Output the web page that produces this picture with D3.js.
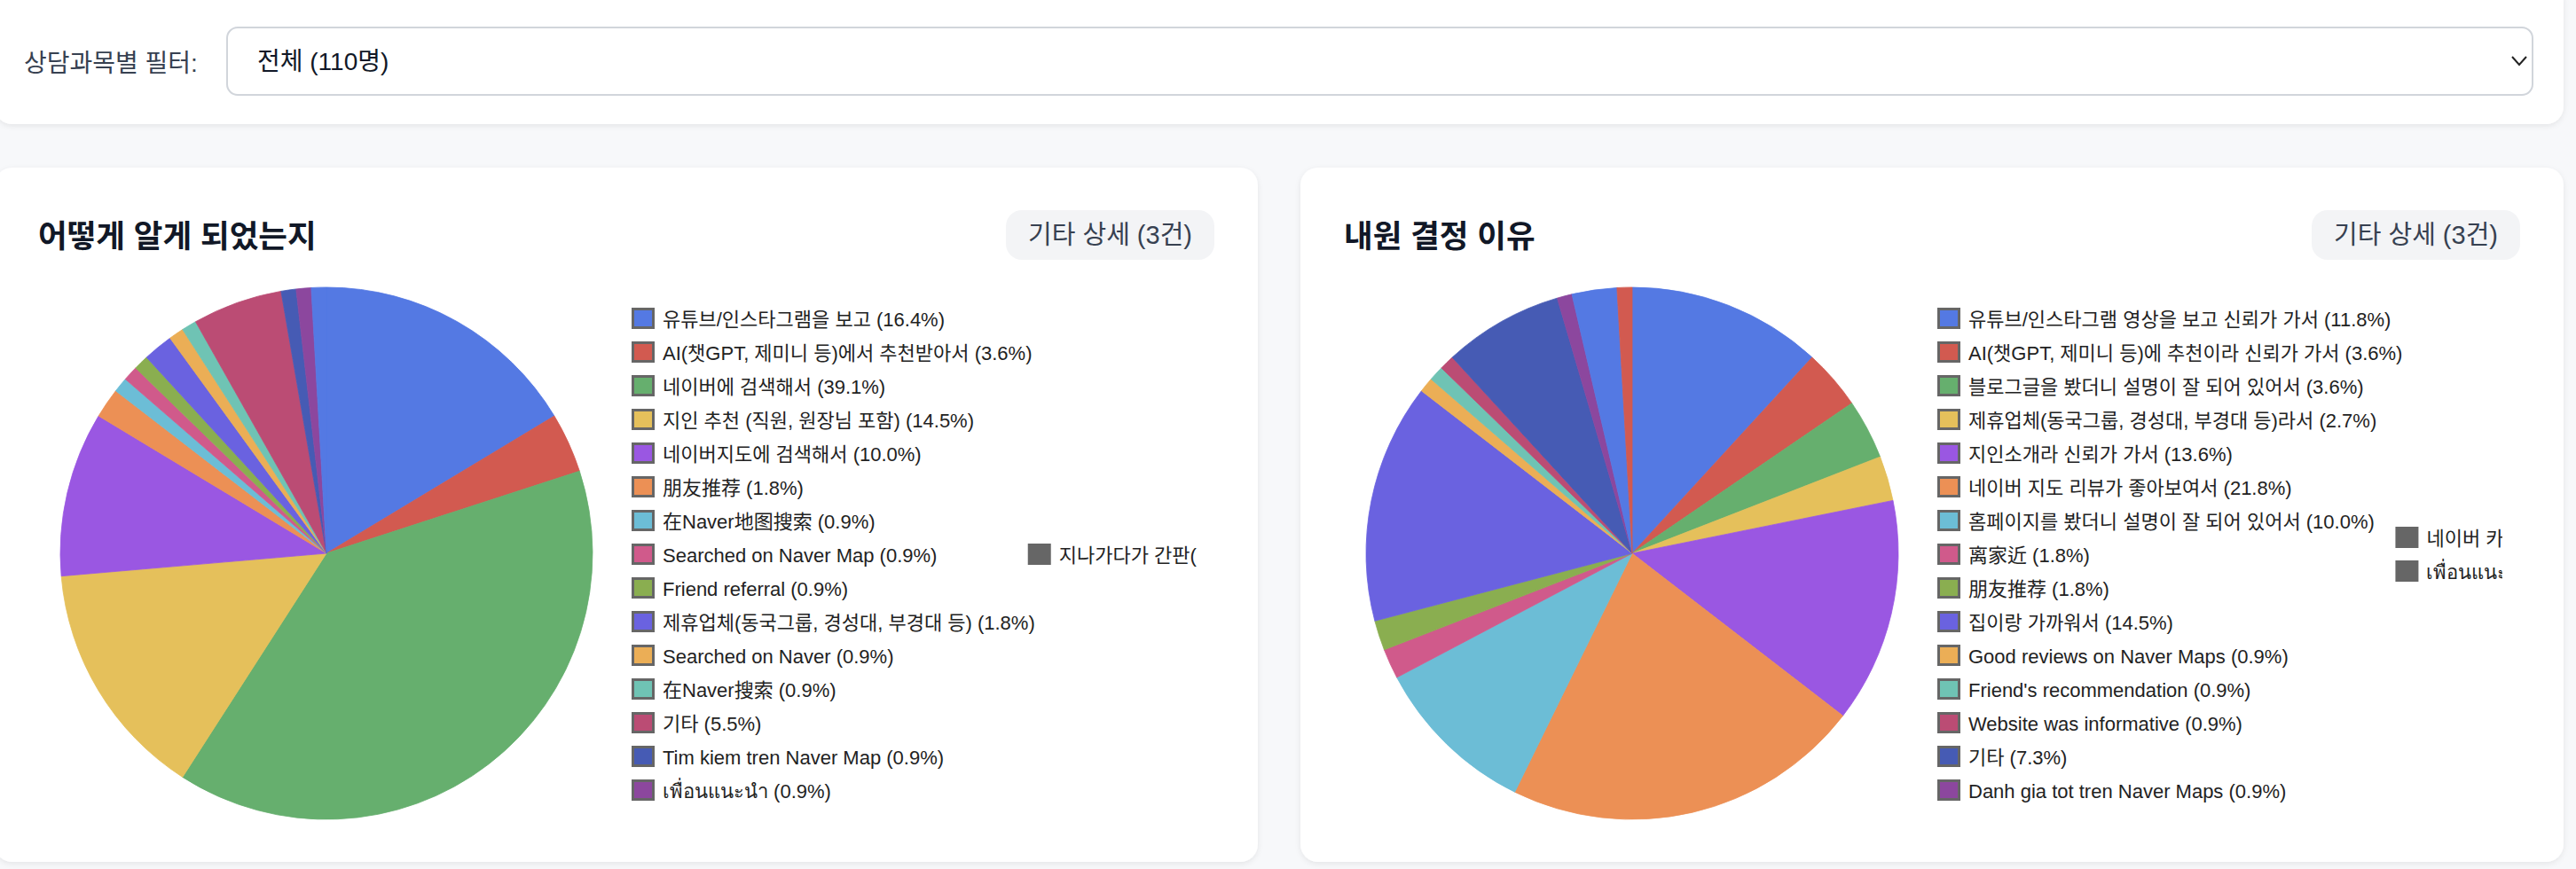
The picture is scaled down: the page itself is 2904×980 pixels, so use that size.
<!DOCTYPE html>
<html>
<head>
<meta charset="utf-8">
<script src="https://cdn.jsdelivr.net/npm/d3@7"></script>
<style>
  body { margin: 0; background: #f7f8fa; }
  svg { display: block; font-family: "Liberation Sans", Arial, "Noto Sans CJK KR", "Noto Sans CJK SC", sans-serif; }
</style>
</head>
<body>
<div id="chart"></div>
<script>
// 어떻게 알게 되었는지 (명)
const sourceLabels = [
  "유튜브/인스타그램을 보고", "AI(챗GPT, 제미니 등)에서 추천받아서", "네이버에 검색해서",
  "지인 추천 (직원, 원장님 포함)", "네이버지도에 검색해서", "朋友推荐", "在Naver地图搜索",
  "Searched on Naver Map", "Friend referral", "제휴업체(동국그룹, 경성대, 부경대 등)",
  "Searched on Naver", "在Naver搜索", "기타", "Tim kiem tren Naver Map", "เพื่อนแนะนำ",
  "지나가다가 간판(지나감)"
];
const sourceCounts = [18, 4, 43, 16, 11, 2, 1, 1, 1, 2, 1, 1, 6, 1, 1, 1];

// 내원 결정 이유 (명)
const reasonLabels = [
  "유튜브/인스타그램 영상을 보고 신뢰가 가서", "AI(챗GPT, 제미니 등)에 추천이라 신뢰가 가서",
  "블로그글을 봤더니 설명이 잘 되어 있어서", "제휴업체(동국그룹, 경성대, 부경대 등)라서",
  "지인소개라 신뢰가 가서", "네이버 지도 리뷰가 좋아보여서", "홈페이지를 봤더니 설명이 잘 되어 있어서",
  "离家近", "朋友推荐", "집이랑 가까워서", "Good reviews on Naver Maps", "Friend's recommendation",
  "Website was informative", "기타", "Danh gia tot tren Naver Maps", "네이버 카페", "เพื่อนแนะนำ"
];
const reasonCounts = [13, 4, 4, 3, 15, 24, 11, 2, 2, 16, 1, 1, 1, 8, 1, 3, 1];

const palette = [
  "#5479e3", "#d25a50", "#66af6e", "#e5c05b", "#9a57e2", "#ec9055", "#6cbdd6", "#d05a8b",
  "#8aae50", "#6a62e0", "#ebae56", "#6fc3b4", "#bb4c74", "#465bb4", "#8c479e"
];

const W = 2904, H = 980;

const svg = d3.select("#chart")
  .append("svg")
  .attr("width", W)
  .attr("height", H);

const defs = svg.append("defs");
const shadow = defs.append("filter").attr("id", "shadow")
  .attr("x", "-5%").attr("y", "-5%").attr("width", "110%").attr("height", "115%");
shadow.append("feDropShadow")
  .attr("dx", 0).attr("dy", 2).attr("stdDeviation", 3)
  .attr("flood-color", "#000").attr("flood-opacity", 0.08);

svg.append("rect").attr("width", W).attr("height", H).attr("fill", "#f7f8fa");

// 필터 영역
const filter = svg.append("g");
filter.append("rect")
  .attr("x", -6).attr("y", -20).attr("width", 2896).attr("height", 160)
  .attr("rx", 20).attr("fill", "#fff").attr("filter", "url(#shadow)");

filter.append("text")
  .attr("x", 27).attr("y", 71)
  .attr("dominant-baseline", "central")
  .style("font-size", "28px").style("fill", "#374151")
  .text("상담과목별 필터:");

filter.append("rect")
  .attr("x", 256).attr("y", 31).attr("width", 2599).attr("height", 76)
  .attr("rx", 12).attr("fill", "#fff")
  .attr("stroke", "#d1d5db").attr("stroke-width", 2);

filter.append("text")
  .attr("x", 290).attr("y", 69)
  .attr("dominant-baseline", "central")
  .style("font-size", "28px").style("fill", "#111827")
  .text("전체 (110명)");

filter.append("path")
  .attr("d", "M2832,64 L2840,73 L2848,64")
  .attr("fill", "none").attr("stroke", "#222").attr("stroke-width", 2);

function drawPieCard(x0, title, labels, counts) {
  const card = svg.append("g").attr("transform", `translate(${x0},0)`);
  const total = d3.sum(counts);
  const data = labels.map((label, i) => ({ label, count: counts[i], i }));

  card.append("rect")
    .attr("x", 0).attr("y", 189).attr("width", 1424).attr("height", 783)
    .attr("rx", 20).attr("fill", "#fff").attr("filter", "url(#shadow)");

  card.append("text")
    .attr("x", 49).attr("y", 267)
    .attr("dominant-baseline", "central")
    .style("font-size", "35.5px").style("font-weight", "bold").style("fill", "#111827")
    .text(title);

  // 기타 상세 버튼
  const btn = card.append("g");
  const btnText = btn.append("text")
    .attr("y", 265)
    .attr("text-anchor", "middle")
    .attr("dominant-baseline", "central")
    .style("font-size", "29px").style("fill", "#374151")
    .text("기타 상세 (3건)");
  const bw = btnText.node().getComputedTextLength() + 50;
  btn.insert("rect", "text")
    .attr("x", 1375 - bw).attr("y", 237).attr("width", bw).attr("height", 56)
    .attr("rx", 18).attr("fill", "#f3f4f6");
  btnText.attr("x", 1375 - bw / 2);

  // 파이
  const pie = d3.pie().sort(null).value(d => d.count);
  const arc = d3.arc().innerRadius(0).outerRadius(300);
  const color = d => palette[d.i % palette.length];

  card.append("g")
    .attr("transform", "translate(374,624)")
    .selectAll("path")
    .data(pie(data))
    .join("path")
    .attr("d", arc)
    .attr("fill", d => color(d.data))
    .attr("stroke", d => color(d.data))
    .attr("stroke-width", 0.8);

  // 범례 (15개씩 한 열)
  const perCol = 15, rowH = 38, boxX = 718;
  const legend = card.append("g");

  const items = legend.selectAll("g")
    .data(data)
    .join("g");

  items.append("rect")
    .attr("width", 23).attr("height", 21)
    .attr("x", 1.5).attr("y", -10.5)
    .attr("fill", d => d.i < palette.length ? palette[d.i] : "#666")
    .attr("stroke", "#666").attr("stroke-width", 3);

  items.append("text")
    .attr("x", 35).attr("y", 1)
    .attr("dominant-baseline", "central")
    .style("font-size", "22px").style("fill", "#222")
    .text(d => `${d.label} (${(d.count / total * 100).toFixed(1)}%)`);

  const col1W = d3.max(items.filter(d => d.i < perCol).select("text").nodes(),
    n => n.getComputedTextLength());
  const colX = [boxX, boxX + 35 + col1W - 8];

  items.attr("transform", d => {
    const col = Math.floor(d.i / perCol);
    const n = Math.min(perCol, data.length - col * perCol);
    const row = d.i - col * perCol;
    const y = 625 - (n - 1) * rowH / 2 + row * rowH;
    return `translate(${colX[col]},${y})`;
  });

  // 범례 영역 잘림 (캔버스 폭)
  const clipId = "legclip" + x0;
  defs.append("clipPath").attr("id", clipId)
    .append("rect").attr("x", 690).attr("y", 300).attr("width", 665).attr("height", 640);
  legend.attr("clip-path", `url(#${clipId})`);
}

drawPieCard(-6, "어떻게 알게 되었는지", sourceLabels, sourceCounts);
drawPieCard(1466, "내원 결정 이유", reasonLabels, reasonCounts);
</script>
</body>
</html>
